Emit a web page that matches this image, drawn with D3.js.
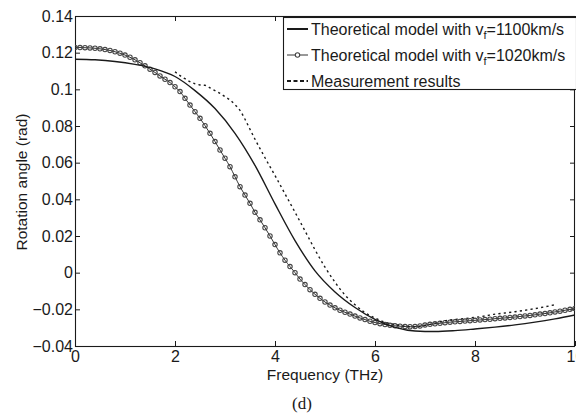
<!DOCTYPE html>
<html>
<head>
<meta charset="utf-8">
<script src="https://cdn.jsdelivr.net/npm/d3@7"></script>
<style>
  html, body { margin: 0; padding: 0; background: #fff; overflow: hidden; }
  svg { display: block; font-family: "Liberation Sans", Arial, Helvetica, sans-serif; }
</style>
</head>
<body>
<svg id="chart" width="576" height="416"></svg>
<script>
// Faraday rotation angle vs frequency: two model curves and the measured trace

// Model with v_f = 1100 km/s (solid line)
const solidFreq = [0, 0.4, 0.8, 1.2, 1.6, 2.0, 2.4, 2.8, 3.2, 3.6, 4.0, 4.4, 4.8, 5.2, 5.6, 6.0, 6.4, 6.8, 7.2, 7.6, 8.0, 8.4, 8.8, 9.2, 9.6, 10.0];
const solidAngle = [0.1164, 0.1161, 0.1152, 0.1136, 0.1112, 0.1070, 0.0993, 0.0895, 0.0760, 0.0585, 0.0375, 0.0175, 0.0010, -0.0105, -0.0190, -0.0255, -0.0298, -0.0318, -0.0321, -0.0316, -0.0307, -0.0297, -0.0285, -0.0270, -0.0252, -0.0231];

// Model with v_f = 1020 km/s (line with circle markers), sampled every 0.1 THz
const circleFreq = d3.range(0, 101).map(i => i / 10);
const circleAngle = [
  0.1228, 0.1228, 0.1227, 0.1226, 0.1224, 0.1221, 0.1217, 0.1212, 0.1205, 0.1197,
  0.1187, 0.1175, 0.1161, 0.1145, 0.1128, 0.1110, 0.1092, 0.1073, 0.1055, 0.1037,
  0.1014, 0.0988, 0.0951, 0.0914, 0.0878, 0.0842, 0.0802, 0.0760, 0.0715, 0.0669,
  0.0624, 0.0578, 0.0523, 0.0469, 0.0423, 0.0378, 0.0329, 0.0288, 0.0245, 0.0200,
  0.0153, 0.0108, 0.0068, 0.0033, 0.0000, -0.0035, -0.0065, -0.0093, -0.0118, -0.0140,
  -0.0160, -0.0177, -0.0192, -0.0205, -0.0216, -0.0226, -0.0237, -0.0247, -0.0256, -0.0265,
  -0.0272, -0.0278, -0.0283, -0.0287, -0.0290, -0.0292, -0.0294, -0.0295, -0.0294, -0.0291,
  -0.0286, -0.0282, -0.0279, -0.0276, -0.0273, -0.0270, -0.0268, -0.0266, -0.0264, -0.0262,
  -0.0260, -0.0258, -0.0256, -0.0254, -0.0251, -0.0249, -0.0247, -0.0244, -0.0242, -0.0239,
  -0.0236, -0.0233, -0.0230, -0.0226, -0.0223, -0.0219, -0.0214, -0.0210, -0.0205, -0.0200,
  -0.0195
];

// Measurement results (dotted line)
const measFreq = [2.0, 2.1, 2.2, 2.3, 2.4, 2.5, 2.6, 2.7, 2.8, 2.9, 3.0, 3.1, 3.2, 3.3, 3.4, 3.5, 3.6, 3.7, 3.8, 3.9, 4.0, 4.2, 4.4, 4.6, 4.8, 5.0, 5.2, 5.4, 5.6, 5.8, 6.0, 6.2, 6.4, 6.6, 6.8, 7.0, 7.2, 7.4, 7.6, 7.8, 8.0, 8.2, 8.4, 8.6, 8.8, 9.0, 9.2, 9.4, 9.6];
const measAngle = [0.1096, 0.1075, 0.1058, 0.1042, 0.1030, 0.1024, 0.1022, 0.1008, 0.0993, 0.0978, 0.0960, 0.0942, 0.0916, 0.0885, 0.0837, 0.0782, 0.0728, 0.0677, 0.0627, 0.0578, 0.0530, 0.0430, 0.0330, 0.0228, 0.0125, 0.0030, -0.0052, -0.0122, -0.0175, -0.0218, -0.0247, -0.0270, -0.0283, -0.0292, -0.0296, -0.0288, -0.0276, -0.0262, -0.0255, -0.0250, -0.0244, -0.0236, -0.0226, -0.0220, -0.0213, -0.0205, -0.0196, -0.0186, -0.0175];

const xTicks = [0, 2, 4, 6, 8, 10];
const yTicks = [-0.04, -0.02, 0, 0.02, 0.04, 0.06, 0.08, 0.1, 0.12, 0.14];
const xTickLabels = ["0", "2", "4", "6", "8", "10"];
const yTickLabels = ["\u22120.04", "\u22120.02", "0", "0.02", "0.04", "0.06", "0.08", "0.1", "0.12", "0.14"];

const legendLabels = [
  { pre: "Theoretical model with v", sub: "f", post: "=1100km/s", kind: "solid" },
  { pre: "Theoretical model with v", sub: "f", post: "=1020km/s", kind: "circle" },
  { pre: "Measurement results", sub: "", post: "", kind: "dash" }
];

const svg = d3.select("#chart");
const plot = { left: 75, right: 575, top: 16, bottom: 346 };

const x = d3.scaleLinear().domain([0, 10]).range([plot.left, plot.right]);
const y = d3.scaleLinear().domain([-0.04, 0.14]).range([plot.bottom, plot.top]);

svg.append("defs").append("clipPath").attr("id", "plotClip")
  .append("rect")
  .attr("x", plot.left).attr("y", plot.top)
  .attr("width", plot.right - plot.left).attr("height", plot.bottom - plot.top);

const ink = "#1a1a1a";
const tickFont = "16px";

// Axes with inward ticks on all four sides
const axisStyle = g => {
  g.select(".domain").remove();
  g.selectAll(".tick line").attr("stroke", ink).attr("stroke-width", 1);
  g.selectAll(".tick text").attr("fill", ink).style("font-size", tickFont)
    .style("font-family", '"Liberation Sans", Arial, sans-serif');
};

svg.append("g")
  .attr("transform", `translate(0,${plot.bottom})`)
  .call(d3.axisBottom(x).tickValues(xTicks).tickSizeInner(-5).tickSizeOuter(0).tickPadding(5)
    .tickFormat((d, i) => xTickLabels[i]))
  .call(axisStyle);

svg.append("g")
  .attr("transform", `translate(0,${plot.top})`)
  .call(d3.axisTop(x).tickValues(xTicks).tickSizeInner(-5).tickSizeOuter(0).tickFormat(""))
  .call(axisStyle);

svg.append("g")
  .attr("transform", `translate(${plot.left},0)`)
  .call(d3.axisLeft(y).tickValues(yTicks).tickSizeInner(-5).tickSizeOuter(0).tickPadding(2)
    .tickFormat((d, i) => yTickLabels[i]))
  .call(axisStyle);

svg.append("g")
  .attr("transform", `translate(${plot.right},0)`)
  .call(d3.axisRight(y).tickValues(yTicks).tickSizeInner(-5).tickSizeOuter(0).tickFormat(""))
  .call(axisStyle);

// Plot frame
svg.append("rect")
  .attr("x", plot.left + 0.5).attr("y", plot.top + 0.5)
  .attr("width", plot.right - plot.left - 1).attr("height", plot.bottom - plot.top)
  .attr("fill", "none").attr("stroke", ink).attr("stroke-width", 1.1);

// Curves
const line = d3.line().x(d => x(d[0])).y(d => y(d[1])).curve(d3.curveMonotoneX);
const curves = svg.append("g").attr("clip-path", "url(#plotClip)");

const solidData = solidFreq.map((f, i) => [f, solidAngle[i]]);
const circleData = circleFreq.map((f, i) => [f, circleAngle[i]]);
const measData = measFreq.map((f, i) => [f, measAngle[i]]);

curves.append("path").datum(circleData)
  .attr("d", line).attr("fill", "none").attr("stroke", "#333").attr("stroke-width", 1);

curves.selectAll("circle.mk").data(circleData).join("circle")
  .attr("class", "mk")
  .attr("cx", d => x(d[0])).attr("cy", d => y(d[1])).attr("r", 2.2)
  .attr("fill", "none").attr("stroke", "#444").attr("stroke-width", 1.1);

curves.append("path").datum(solidData)
  .attr("d", line).attr("fill", "none").attr("stroke", ink).attr("stroke-width", 1.4);

curves.append("path").datum(measData)
  .attr("d", line).attr("fill", "none").attr("stroke", ink).attr("stroke-width", 1.4)
  .attr("stroke-dasharray", "2.2,3.2");

// Axis titles
svg.append("text")
  .attr("x", 325).attr("y", 380)
  .attr("text-anchor", "middle").attr("fill", ink)
  .style("font-size", "15.5px")
  .text("Frequency (THz)");

svg.append("text")
  .attr("transform", "translate(27,182) rotate(-90)")
  .attr("text-anchor", "middle").attr("fill", ink)
  .style("font-size", "15.5px")
  .text("Rotation angle (rad)");

svg.append("text")
  .attr("x", 302).attr("y", 409)
  .attr("text-anchor", "middle").attr("fill", ink)
  .style("font-family", '"Liberation Serif", "DejaVu Serif", serif')
  .style("font-size", "17px")
  .text("(d)");

// Legend
const lg = svg.append("g");
lg.append("rect")
  .attr("x", 283.5).attr("y", 17.5).attr("width", 293).attr("height", 72)
  .attr("fill", "#fff").attr("stroke", ink).attr("stroke-width", 1.1);

const rowY = [29, 55, 81];
legendLabels.forEach((item, i) => {
  const yy = rowY[i];
  const sample = lg.append("line")
    .attr("x1", 287).attr("x2", 308).attr("y1", yy).attr("y2", yy)
    .attr("stroke", ink);
  if (item.kind === "solid") sample.attr("stroke-width", 2);
  if (item.kind === "circle") {
    sample.attr("stroke-width", 1).attr("stroke", "#333");
    lg.append("circle").attr("cx", 297.5).attr("cy", yy).attr("r", 2.2)
      .attr("fill", "#fff").attr("stroke", "#444").attr("stroke-width", 1.1);
  }
  if (item.kind === "dash") sample.attr("stroke-width", 2).attr("stroke-dasharray", "4,2.5");

  const t = lg.append("text").attr("x", 311).attr("y", yy + 5.5)
    .attr("fill", ink).style("font-size", "16px");
  t.append("tspan").text(item.pre);
  if (item.sub) {
    t.append("tspan").attr("dy", 4).style("font-size", "11px").text(item.sub);
    t.append("tspan").attr("dy", -4).text(item.post);
  }
});
</script>
</body>
</html>
